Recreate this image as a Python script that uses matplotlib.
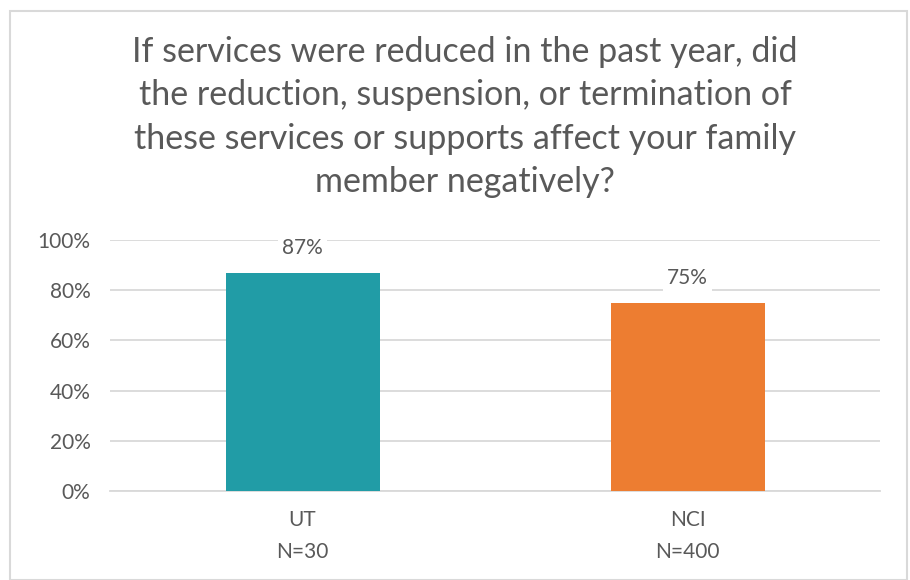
import matplotlib.pyplot as plt
from matplotlib.patches import Rectangle
from matplotlib.ticker import PercentFormatter

# data
groups = ['UT\nN=30', 'NCI\nN=400']
values = [0.87, 0.75]
bar_colors = ['#219ca6', '#ed7d31']
title = ('If services were reduced in the past year, did\n'
         'the reduction, suspension, or termination of\n'
         'these services or supports affect your family\n'
         'member negatively?')

plt.rcParams['font.family'] = ['Lato', 'DejaVu Sans']
grey = '#595959'

fig = plt.figure(figsize=(9.1, 5.8), dpi=100)
ax = fig.add_axes([110 / 910, 1 - 491 / 580, 770 / 910, 251 / 580])

# chart border
fig.patches.append(Rectangle((10 / 910, 0), 897 / 910, 1 - 11 / 580, transform=fig.transFigure,
                             fill=False, edgecolor='#d9d9d9', linewidth=1.5))

x = range(len(groups))
bars = ax.bar(x, values, width=0.4, color=bar_colors, zorder=3)
ax.set_xlim(-0.5, 1.5)
ax.set_ylim(0, 1)
ax.set_yticks([0, 0.2, 0.4, 0.6, 0.8, 1.0])
ax.yaxis.set_major_formatter(PercentFormatter(1.0, decimals=0))
ax.set_xticks(list(x))
ax.set_xticklabels(groups, fontsize=15, color=grey, linespacing=1.7)
ax.tick_params(axis='y', labelsize=15, labelcolor=grey, length=0, pad=14)
ax.tick_params(axis='x', length=0, pad=14)
ax.grid(axis='y', color='#d9d9d9', linewidth=1.3, zorder=0)
for s in ['top', 'right', 'left']:
    ax.spines[s].set_visible(False)
ax.spines['bottom'].set_color('#d9d9d9')
ax.spines['bottom'].set_linewidth(1.3)

for b, v in zip(bars, values):
    ax.text(b.get_x() + b.get_width() / 2, v + 0.1, f'{v:.0%}', ha='center', va='center',
            fontsize=15, color=grey, zorder=4,
            bbox=dict(facecolor='white', edgecolor='none', pad=3))

fig.text(465 / 910, 1 - 117 / 580, title, ha='center', va='center', fontsize=24.5,
         color=grey, linespacing=1.44)

plt.savefig('out.png', dpi=100)
